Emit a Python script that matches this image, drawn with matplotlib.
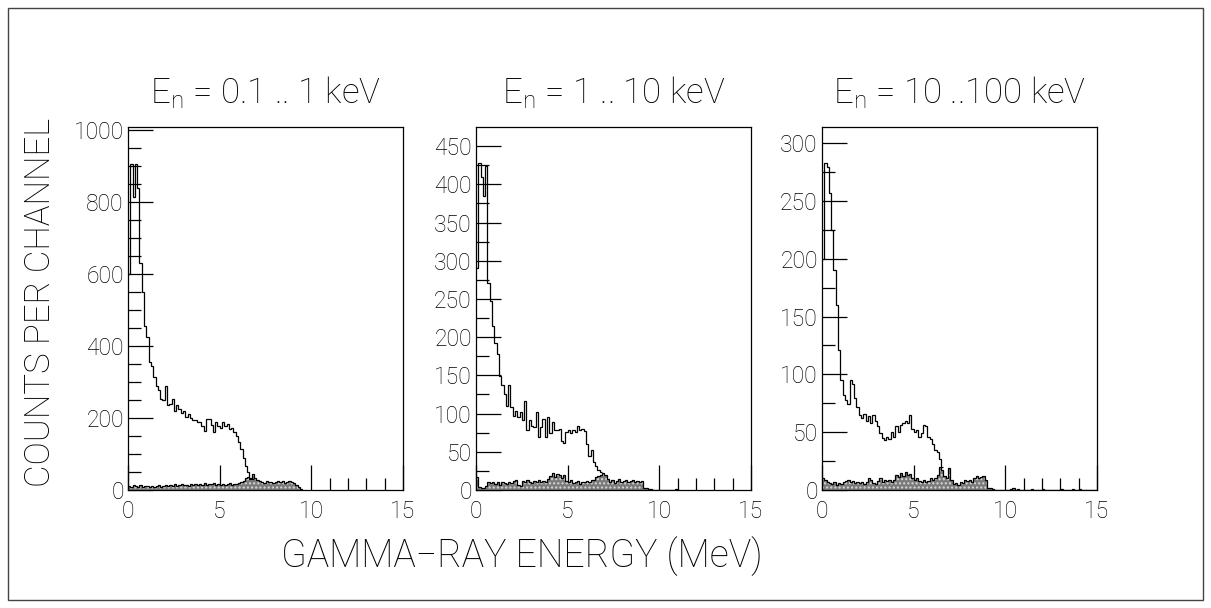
import numpy as np
import matplotlib
matplotlib.use("Agg")
import matplotlib.pyplot as plt
from matplotlib.patches import Rectangle

plt.rcParams['font.family'] = ['Roboto', 'DejaVu Sans']
plt.rcParams['font.weight'] = 'light'
plt.rcParams['mathtext.fontset'] = 'custom'
plt.rcParams['mathtext.rm'] = 'Roboto:light'

# histogram binning: 0.125 MeV channels from 0 to 15 MeV
bin_width = 0.125
n_bins = 120

titles = ['$\\mathrm{E_n}$ = 0.1 .. 1 keV',
          '$\\mathrm{E_n}$ = 1 .. 10 keV',
          '$\\mathrm{E_n}$ = 10 ..100 keV']

# total spectra (counts per channel), starting at 0 MeV
total_1 = [600, 905, 815, 905, 840, 630, 550, 455, 425, 355,
           345, 315, 290, 278, 252, 250, 290, 235, 240, 252,
           218, 235, 226, 213, 220, 204, 210, 201, 195, 193,
           188, 190, 179, 163, 197, 196, 180, 160, 190, 178,
           172, 188, 178, 182, 170, 172, 162, 150, 132, 113,
           90, 67, 49, 34, 30]
total_2 = [290, 428, 410, 385, 424, 271, 247, 214, 193, 178,
           149, 138, 125, 110, 138, 108, 97, 104, 95, 102,
           91, 117, 78, 91, 84, 82, 102, 69, 82, 93,
           69, 95, 75, 89, 78, 78, 80, 64, 62, 76,
           78, 75, 78, 76, 84, 78, 80, 77, 60, 45,
           52, 36, 32, 26, 24]
total_3 = [200, 283, 279, 257, 225, 190, 160, 121, 95, 82,
           78, 74, 95, 92, 80, 72, 65, 62, 66, 60,
           64, 58, 65, 60, 55, 49, 45, 43, 46, 44,
           50, 46, 55, 50, 56, 58, 60, 58, 65, 53,
           50, 52, 46, 49, 56, 55, 46, 44, 40, 35,
           33, 27, 20]

# background spectra (shaded)
bg_1 = [12, 8, 14, 10, 9, 13, 8, 11, 10, 7, 12, 9, 10, 14, 9, 11,
        13, 10, 15, 12, 16, 11, 14, 17, 13, 15, 12, 18, 14, 16, 13, 17,
        15, 19, 14, 18, 16, 20, 13, 17, 15, 18, 14, 16, 19, 15, 17, 16,
        20, 23, 26, 32, 35, 30, 44, 33,
        28, 26, 22, 20, 24, 21, 23, 19, 22, 25, 21, 24, 20, 23, 26, 22,
        20, 14, 8, 4]
bg_2 = [17, 4, 2, 3, 5, 10, 9, 11, 8, 10, 7, 11, 9, 8, 11, 9,
        12, 13, 6, 5, 12, 10, 13, 11, 9, 12, 10, 13, 11, 12, 10, 14,
        18, 22, 17, 21, 19, 16, 20, 12, 10, 13, 9, 11, 12, 8, 11, 10,
        12, 11, 13, 13, 17, 18, 20, 22, 20, 14, 10, 13, 9, 12, 14, 11,
        12, 13, 11, 12, 13, 11, 12, 10, 12, 3, 2, 1, 1, 0,
        0, 0, 0, 0, 0, 0, 0, 0, 0, 1]
bg_3 = [10, 9, 7, 6, 5, 7, 4, 6, 5, 7, 8, 9, 7, 8, 6, 7,
        6, 7, 5, 7, 10, 9, 6, 5, 8, 10, 7, 9, 8, 9, 7, 9,
        13, 11, 15, 12, 16, 13, 14, 10, 9, 10, 8, 7, 9, 7, 8, 10,
        9, 10, 13, 20, 17, 12, 10, 19, 9, 5, 6, 4, 7, 6, 9, 8,
        9, 7, 10, 12, 10, 11, 12, 9, 2, 2, 1, 0,
        0, 0, 0, 0, 0, 0, 1, 2, 0, 1, 0, 0, 0, 0, 0, 1,
        0, 0, 0, 0, 1, 0, 0, 0, 0, 0, 0, 0, 1, 0, 0, 0,
        0, 1, 0, 0, 1, 0, 0, 0, 0, 0, 0, 0]

totals = [total_1, total_2, total_3]
backgrounds = [bg_1, bg_2, bg_3]
y_max = [1008, 475, 314]
y_major = [200, 50, 50]
y_minor = [50, 25, 25]

edges = np.arange(n_bins + 1) * bin_width

fig = plt.figure(figsize=(12.11, 6.08), dpi=100)
fig.patches.append(Rectangle((8 / 1211, 8 / 608), 1195 / 1211, 592 / 608,
                             transform=fig.transFigure, fill=False,
                             edgecolor='#444444', lw=1.0))

lefts = [128, 476, 822]
for k in range(3):
    ax = fig.add_axes([lefts[k] / 1211, 1 - 490 / 608, 275 / 1211, 363 / 608])
    bg = np.array(backgrounds[k])
    tot = np.array(totals[k])
    ax.stairs(bg, edges[:len(bg) + 1], fill=True, facecolor='#7a7a7a',
              edgecolor='#d8d8d8', hatch='....', lw=0, zorder=1)
    ax.stairs(bg, edges[:len(bg) + 1], color='black', lw=0.9, zorder=2)
    ax.stairs(tot, edges[:len(tot) + 1], color='black', lw=0.9,
              baseline=None, zorder=2)

    ax.set_xlim(0, 15)
    ax.set_ylim(0, y_max[k])
    ax.set_axisbelow(True)
    ax.set_xticks([0, 5, 10, 15])
    ax.set_xticks([11, 12, 13, 14], minor=True)
    ax.set_yticks(np.arange(0, y_max[k], y_major[k]))
    ax.set_yticks(np.arange(0, y_max[k], y_minor[k]), minor=True)
    ax.tick_params(which='both', direction='in', top=False, right=False,
                   width=0.9, labelsize=16.5, colors='black')
    ax.tick_params(which='major', length=18, pad=3)
    ax.tick_params(axis='x', which='major', pad=7)
    ax.tick_params(which='minor', length=9)
    for s in ax.spines.values():
        s.set_linewidth(0.9)
    ax.set_title(titles[k], fontsize=25, fontweight='light', pad=17)

fig.text(40 / 1211, 1 - 302 / 608, 'COUNTS PER CHANNEL', rotation=90,
         ha='center', va='center', fontsize=25)
fig.text(522 / 1211, 1 - 556 / 608, 'GAMMA\u2212RAY ENERGY (MeV)',
         ha='center', va='center', fontsize=27)

fig.savefig('out.png', dpi=100)
